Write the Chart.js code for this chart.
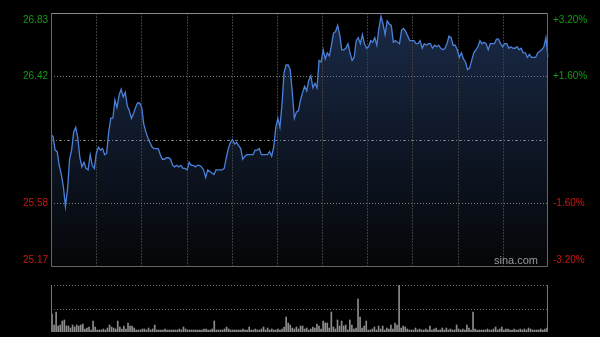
<!DOCTYPE html>
<html>
<head>
<title>分时图</title>
<script src="https://cdn.jsdelivr.net/npm/chart.js"></script>
<style>
  body { margin: 0; background: #000; width: 600px; height: 337px; overflow: hidden; }
  #priceChart { position: absolute; left: 0; top: 0; }
  #volChart { position: absolute; left: 0; top: 275px; }
</style>
</head>
<body>
<canvas id="priceChart" width="600" height="270"></canvas>
<canvas id="volChart" width="600" height="62"></canvas>
<script>
const prevClose = 26.00;
const leftLabels = ['25.17', '25.58', '', '26.42', '26.83'];
const rightLabels = ['-3.20%', '-1.60%', '', '+1.60%', '+3.20%'];
const pctSteps = [-0.032, -0.016, 0, 0.016, 0.032];

// 每分钟价格
const prices = [
  26.03, 26.02, 25.93, 25.92, 25.83, 25.77, 25.69, 25.56, 25.67, 25.87,
  25.93, 26.05, 26.08, 26.01, 25.88, 25.82, 25.85, 25.81, 25.80, 25.90,
  25.83, 25.81, 25.91, 25.95, 25.93, 25.94, 25.90, 25.91, 26.05, 26.14,
  26.14, 26.26, 26.21, 26.29, 26.33, 26.28, 26.31, 26.22, 26.19, 26.14,
  26.17, 26.21, 26.24, 26.24, 26.21, 26.10, 26.05, 26.01, 25.98, 25.95,
  25.94, 25.94, 25.94, 25.90, 25.87, 25.87, 25.88, 25.88, 25.87, 25.83,
  25.82, 25.83, 25.82, 25.83, 25.81, 25.81, 25.80, 25.85, 25.83, 25.83,
  25.82, 25.83, 25.83, 25.82, 25.80, 25.75, 25.80, 25.79, 25.78, 25.77,
  25.80, 25.80, 25.80, 25.80, 25.81, 25.88, 25.94, 25.98, 26.00, 25.97,
  25.98, 25.96, 25.94, 25.87, 25.89, 25.90, 25.90, 25.90, 25.90, 25.93,
  25.93, 25.94, 25.90, 25.90, 25.90, 25.90, 25.92, 25.89, 25.95, 26.08,
  26.14, 26.08, 26.23, 26.44, 26.49, 26.49, 26.46, 26.31, 26.14, 26.18,
  26.19, 26.26, 26.31, 26.35, 26.32, 26.39, 26.42, 26.34, 26.37, 26.34,
  26.52, 26.51, 26.59, 26.53, 26.57, 26.55, 26.62, 26.70, 26.71, 26.75,
  26.69, 26.59, 26.59, 26.60, 26.63, 26.57, 26.52, 26.54, 26.65, 26.67,
  26.63, 26.69, 26.63, 26.60, 26.61, 26.65, 26.64, 26.67, 26.62, 26.73,
  26.81, 26.76, 26.69, 26.78, 26.76, 26.75, 26.64, 26.65, 26.64, 26.63,
  26.72, 26.73, 26.71, 26.68, 26.65, 26.65, 26.65, 26.63, 26.63, 26.65,
  26.60, 26.63, 26.62, 26.63, 26.63, 26.60, 26.62, 26.61, 26.62, 26.60,
  26.59, 26.60, 26.63, 26.68, 26.67, 26.62, 26.62, 26.59, 26.54, 26.57,
  26.53, 26.51, 26.46, 26.47, 26.52, 26.57, 26.59, 26.61, 26.65, 26.63,
  26.64, 26.63, 26.59, 26.63, 26.63, 26.63, 26.66, 26.66, 26.63, 26.61,
  26.63, 26.63, 26.60, 26.61, 26.60, 26.60, 26.61, 26.59, 26.60, 26.57,
  26.57, 26.54, 26.56, 26.54, 26.54, 26.54, 26.57, 26.58, 26.59, 26.61,
  26.67, 26.54
];

// 成交量（百手）
const volumes = [
  18, 7, 20, 6, 7, 11, 12, 6, 6, 4, 7, 5, 7, 6, 7, 8, 3, 4, 5, 2,
  11, 5, 2, 2, 2, 3, 2, 4, 7, 5, 4, 3, 11, 5, 3, 6, 3, 9, 6, 6,
  4, 2, 2, 2, 3, 3, 2, 4, 2, 3, 7, 2, 2, 2, 2, 3, 2, 2, 2, 2,
  2, 2, 3, 2, 5, 3, 2, 2, 2, 2, 2, 2, 2, 2, 3, 3, 2, 2, 3, 11,
  2, 2, 2, 2, 3, 5, 3, 2, 2, 2, 2, 2, 2, 3, 2, 2, 5, 2, 2, 3,
  2, 2, 3, 5, 2, 4, 2, 3, 2, 2, 3, 2, 3, 5, 15, 9, 7, 4, 3, 5,
  3, 6, 6, 3, 4, 2, 3, 5, 4, 8, 6, 3, 11, 9, 9, 4, 20, 5, 3, 12,
  6, 11, 6, 7, 2, 12, 7, 3, 4, 33, 15, 4, 6, 11, 2, 2, 3, 5, 2, 6,
  3, 6, 2, 4, 3, 7, 3, 9, 7, 47, 4, 6, 5, 3, 2, 2, 2, 4, 2, 3,
  2, 2, 3, 2, 6, 2, 3, 4, 2, 2, 4, 2, 4, 2, 3, 2, 2, 7, 3, 2,
  3, 2, 7, 4, 2, 20, 3, 2, 2, 2, 2, 2, 3, 2, 2, 3, 5, 2, 3, 5,
  2, 3, 3, 2, 2, 3, 2, 2, 3, 2, 3, 2, 4, 3, 2, 2, 2, 2, 3, 2,
  3, 4
];

// 交易时间 9:30-11:30, 13:00-15:00
const times = [];
function addSession(h, m, count) {
  for (let i = 0; i < count; i++) {
    const t = h * 60 + m + i;
    times.push(Math.floor(t / 60) + ':' + String(t % 60).padStart(2, '0'));
  }
}
addSession(9, 30, 121);
addSession(13, 0, 121);

const upColor = '#149a14';
const downColor = '#cc1414';
const labelFont = '10px Arial, "Liberation Sans", sans-serif';

function hLine(ctx, a, py, dash, color) {
  ctx.setLineDash(dash);
  ctx.strokeStyle = color;
  ctx.beginPath();
  ctx.moveTo(a.left, py);
  ctx.lineTo(a.right, py);
  ctx.stroke();
}

function vLine(ctx, px, top, bottom, dash, color) {
  ctx.setLineDash(dash);
  ctx.strokeStyle = color;
  ctx.beginPath();
  ctx.moveTo(px, top);
  ctx.lineTo(px, bottom);
  ctx.stroke();
}

const priceGrid = {
  id: 'priceGrid',
  beforeDatasetsDraw(chart) {
    const { ctx, chartArea: a, scales: { x, y } } = chart;
    ctx.save();
    ctx.lineWidth = 1;
    for (let i = 1; i < 11; i++) {
      const px = Math.round(x.getPixelForValue(i * (times.length - 1) / 11)) + 0.5;
      vLine(ctx, px, a.top, a.bottom, [2, 1], '#3c3c3c');
    }
    pctSteps.forEach((s, i) => {
      if (i === 0 || i === pctSteps.length - 1) return;
      const py = Math.round(y.getPixelForValue(prevClose * (1 + s))) + 0.5;
      if (s === 0) hLine(ctx, a, py, [3, 2, 1, 2], '#7a7a7a');
      else hLine(ctx, a, py, [1, 2], '#7a7a7a');
    });
    ctx.restore();
  },
  afterDraw(chart) {
    const { ctx, chartArea: a, scales: { y } } = chart;
    ctx.save();
    ctx.lineWidth = 1;
    ctx.setLineDash([]);
    ctx.strokeStyle = '#8a8a8a';
    ctx.beginPath();
    ctx.moveTo(a.left, a.top + 0.5);
    ctx.lineTo(a.right, a.top + 0.5);
    ctx.stroke();
    ctx.strokeStyle = '#666';
    ctx.beginPath();
    ctx.moveTo(a.left + 0.5, a.top);
    ctx.lineTo(a.left + 0.5, a.bottom + 0.5);
    ctx.lineTo(a.right - 0.5, a.bottom + 0.5);
    ctx.lineTo(a.right - 0.5, a.top);
    ctx.stroke();

    ctx.font = labelFont;
    pctSteps.forEach((s, i) => {
      if (!leftLabels[i]) return;
      const py = y.getPixelForValue(prevClose * (1 + s));
      let base = 'middle', dy = 0;
      if (i === pctSteps.length - 1) { base = 'top'; dy = 2; }
      if (i === 0) { base = 'bottom'; dy = -1; }
      ctx.textBaseline = base;
      ctx.fillStyle = s > 0 ? upColor : downColor;
      ctx.textAlign = 'right';
      ctx.fillText(leftLabels[i], a.left - 3, py + dy);
      ctx.textAlign = 'left';
      ctx.fillText(rightLabels[i], a.right + 5, py + dy);
    });

    ctx.font = '11px Arial, "Liberation Sans", sans-serif';
    ctx.fillStyle = '#9a9a9a';
    ctx.textAlign = 'right';
    ctx.textBaseline = 'bottom';
    ctx.fillText('sina.com', a.right - 10, a.bottom - 0);
    ctx.restore();
  }
};

new Chart(document.getElementById('priceChart'), {
  type: 'line',
  data: {
    labels: times,
    datasets: [{
      data: prices,
      borderColor: '#4a80d8',
      borderWidth: 1.3,
      pointRadius: 0,
      tension: 0,
      fill: 'start',
      backgroundColor: (context) => {
        const a = context.chart.chartArea;
        if (!a) return 'rgba(0,0,0,0)';
        const g = context.chart.ctx.createLinearGradient(0, a.top, 0, a.bottom);
        g.addColorStop(0, '#1a2a48');
        g.addColorStop(0.5, '#0f1828');
        g.addColorStop(1, '#050608');
        return g;
      }
    }]
  },
  options: {
    responsive: false,
    animation: false,
    layout: { padding: { left: 51, right: 52, top: 13, bottom: 4 } },
    scales: {
      x: { display: false, offset: false },
      y: { display: false, min: prevClose * (1 - 0.032), max: prevClose * (1 + 0.032) }
    },
    plugins: {
      legend: { display: false },
      tooltip: { enabled: false },
      filler: { drawTime: 'beforeDraw' }
    }
  },
  plugins: [priceGrid]
});

const volGrid = {
  id: 'volGrid',
  beforeDatasetsDraw(chart) {
    const { ctx, chartArea: a } = chart;
    ctx.save();
    ctx.lineWidth = 1;
    hLine(ctx, a, Math.round(a.top) + 0.5, [1, 2], '#6a6a6a');
    hLine(ctx, a, Math.round((a.top + a.bottom) / 2) + 0.5, [1, 2], '#6a6a6a');
    ctx.restore();
  },
  afterDraw(chart) {
    const { ctx, chartArea: a } = chart;
    ctx.save();
    ctx.lineWidth = 1;
    vLine(ctx, a.left + 0.5, a.top, a.bottom, [], '#777');
    vLine(ctx, a.right - 0.5, a.top, a.bottom, [], '#777');
    ctx.restore();
  }
};

new Chart(document.getElementById('volChart'), {
  type: 'bar',
  data: {
    labels: times,
    datasets: [{
      data: volumes,
      backgroundColor: '#8c8c8c',
      barThickness: 1
    }]
  },
  options: {
    responsive: false,
    animation: false,
    layout: { padding: { left: 51, right: 52, top: 10, bottom: 5 } },
    scales: {
      x: { display: false },
      y: { display: false, min: 0, max: Math.max(...volumes) }
    },
    plugins: {
      legend: { display: false },
      tooltip: { enabled: false }
    }
  },
  plugins: [volGrid]
});
</script>
</body>
</html>
